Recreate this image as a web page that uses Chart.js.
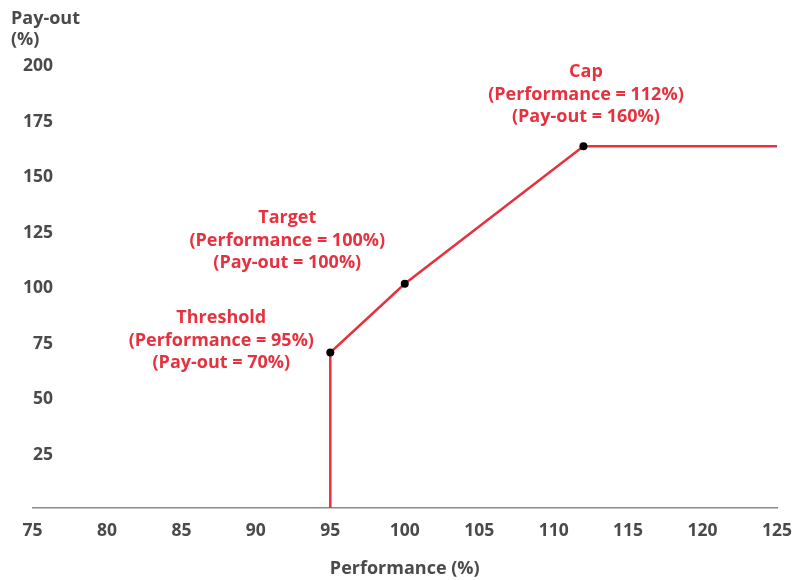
<!DOCTYPE html>
<html>
<head>
<meta charset="utf-8">
<script src="https://cdn.jsdelivr.net/npm/chart.js@4"></script>
<style>
  html, body { margin: 0; padding: 0; background: #fff; }
  #wrap { width: 794px; height: 580px; }
</style>
</head>
<body>
<div id="wrap"><canvas id="myChart"></canvas></div>
<script>
const performance = [95, 95, 100, 112, 125];
const payout = [0, 70, 101, 163, 163];
const xTicks = [75, 80, 85, 90, 95, 100, 105, 110, 115, 120, 125];
const yTicks = [25, 50, 75, 100, 125, 150, 175, 200];

const noteIndex = [1, 2, 3];
const noteLines = [
  ['Threshold', '(Performance = 95%)', '(Pay-out = 70%)'],
  ['Target', '(Performance = 100%)', '(Pay-out = 100%)'],
  ['Cap', '(Performance = 112%)', '(Pay-out = 160%)']
];
// pixel offset of the middle line from its point
const noteOffset = [[-109, -12], [-117.5, -43], [2.5, -51.5]];

const red = '#e6323e';
const grey = '#4a4a4a';
const family = '"Open Sans", sans-serif';
const textFont = { family: family, size: 18, weight: 'bold' };
const tickFont = { family: family, size: 17.5, weight: 'bold' };

const notes = {
  id: 'notes',
  afterDatasetsDraw(chart) {
    const ctx = chart.ctx;
    const xs = chart.scales.x, ys = chart.scales.y;
    ctx.save();
    ctx.font = 'bold 18px ' + family;
    ctx.fillStyle = red;
    ctx.textAlign = 'center';
    ctx.textBaseline = 'middle';
    noteIndex.forEach((idx, i) => {
      const px = xs.getPixelForValue(performance[idx]) + noteOffset[i][0];
      const py = ys.getPixelForValue(payout[idx]) + noteOffset[i][1];
      noteLines[i].forEach((t, j) => ctx.fillText(t, px, py + (j - 1) * 22.5));
    });
    ctx.restore();
  }
};

new Chart(document.getElementById('myChart'), {
  type: 'line',
  data: {
    datasets: [{
      data: performance.map((p, i) => ({ x: p, y: payout[i] })),
      borderColor: red,
      borderWidth: 2.5,
      pointRadius: c => noteIndex.includes(c.dataIndex) ? 4 : 0,
      pointBackgroundColor: '#000',
      pointBorderWidth: 0,
      tension: 0
    }]
  },
  options: {
    responsive: true,
    maintainAspectRatio: false,
    animation: false,
    layout: { padding: { left: 11, right: 17, top: 0, bottom: 0 } },
    plugins: {
      legend: { display: false },
      tooltip: { enabled: false },
      title: {
        display: true,
        text: ['Pay-out', '(%)'],
        align: 'start',
        color: grey,
        font: { family: family, size: 18, weight: 'bold', lineHeight: 1.15 },
        padding: { top: 9, bottom: 13.6 }
      }
    },
    scales: {
      x: {
        type: 'linear',
        min: 75,
        max: 125,
        afterBuildTicks: s => { s.ticks = xTicks.map(v => ({ value: v })); },
        afterFit: s => { s.paddingLeft = 0; s.paddingRight = 0; },
        grid: { display: false, drawTicks: false },
        border: { display: true, color: '#8a8a8a', width: 1.5 },
        ticks: { color: grey, font: tickFont, padding: 12.5 },
        title: {
          display: true,
          text: 'Performance (%)',
          color: grey,
          font: textFont,
          padding: { top: 4.4, bottom: 0 }
        }
      },
      y: {
        min: 0,
        max: 200,
        afterBuildTicks: s => { s.ticks = yTicks.map(v => ({ value: v })); },
        afterFit: s => { s.width = 21.5; },
        grid: { display: false, drawTicks: false },
        border: { display: false },
        ticks: { color: grey, font: tickFont, mirror: true, crossAlign: 'far', padding: -9.5, labelOffset: 2.5 }
      }
    }
  },
  plugins: [notes]
});
</script>
</body>
</html>
